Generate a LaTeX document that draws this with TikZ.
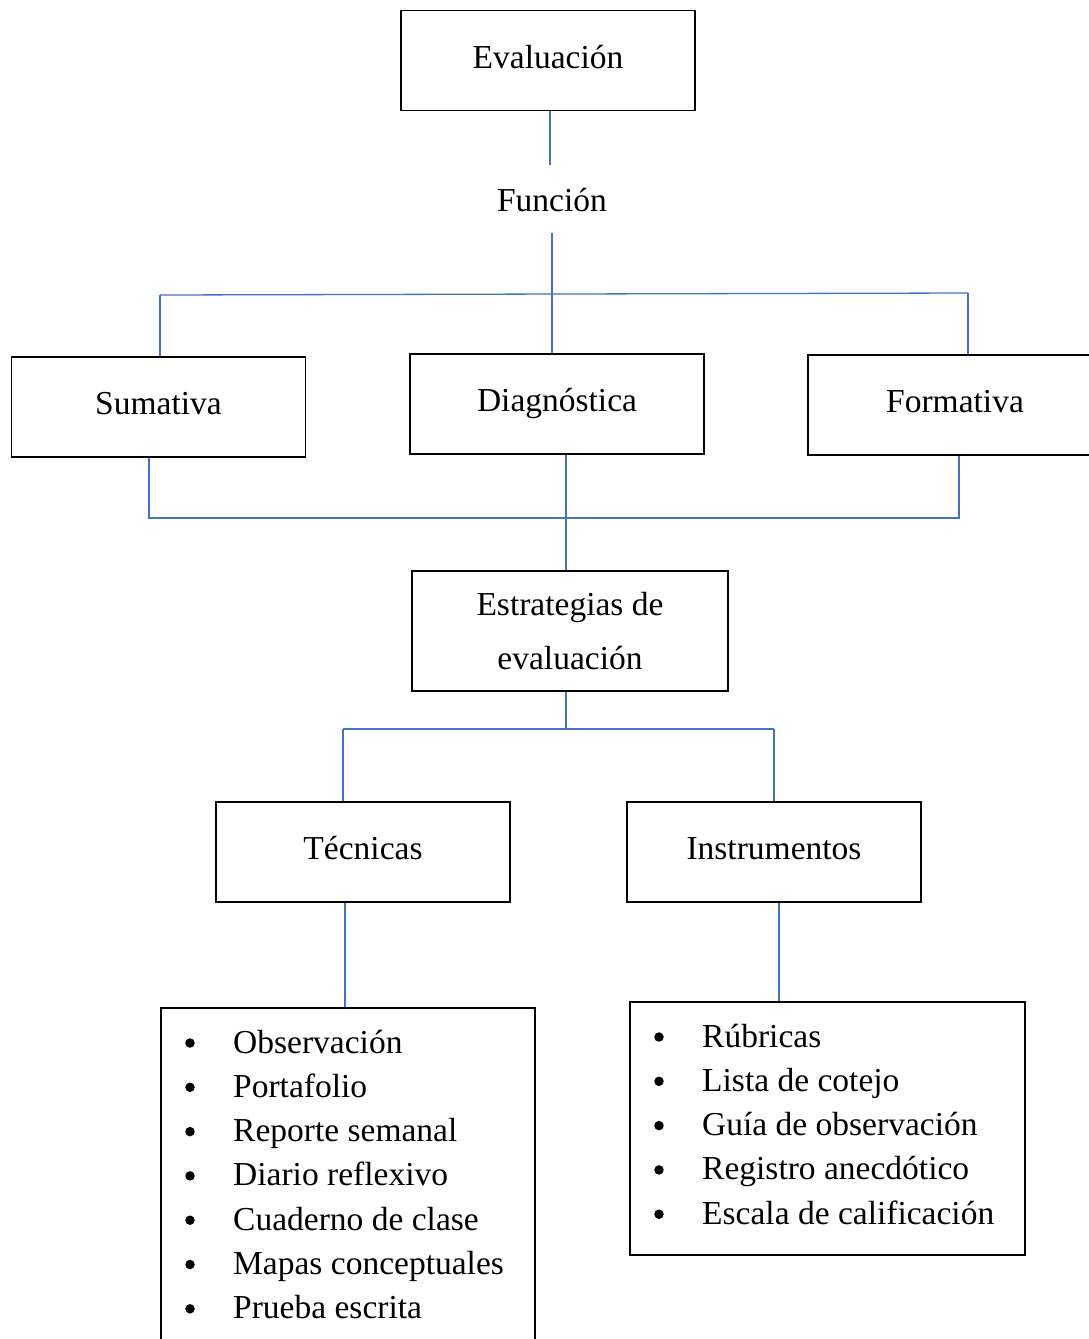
\documentclass[tikz,border=0pt]{standalone}
\usepackage{fontspec}
\setmainfont{Liberation Serif}
\definecolor{linkblue}{RGB}{68,114,196}
\begin{document}
\begin{tikzpicture}[x=1pt,y=-1pt,
  every node/.style={font=\fontsize{33.5}{40}\selectfont, inner sep=0pt, text height=25pt, text depth=10pt},
  box/.style={draw=black, line width=1.6pt, rectangle, minimum width=294pt, minimum height=100pt},
  listbox/.style={draw=black, line width=1.6pt, rectangle},
  link/.style={draw=linkblue, line width=1.3pt},
  item/.style={anchor=base west, text height=, text depth=},
  bul/.style={circle, fill=black, minimum size=9.5pt, text height=, text depth=}]
\useasboundingbox (0,0) rectangle (1089,1339);
\clip (0,0) rectangle (1089,1339);
\fill[white] (0,0) rectangle (1089,1339);

% top
\node[box] (eval) at (548,60.5) {Evaluación};
\node[minimum height=68pt, text height=30pt, text depth=5pt] (func) at (552,199) {Función};

\node[box] (sum) at (158.5,407) {Sumativa};
\node[box] (diag) at (557,404) {Diagnóstica};
\node[box] (form) at (955,405) {Formativa};

\node[listbox, minimum width=316pt, minimum height=120pt, align=center,
      font=\fontsize{33.5}{54}\selectfont, text height=, text depth=] (estr) at (570,631)
      {Estrategias de\\evaluación};

\node[box] (tec) at (363,852) {Técnicas};
\node[box] (inst) at (774,852) {Instrumentos};

\node[listbox, minimum width=374pt, minimum height=345pt] (tlist) at (348,1180.5) {};
\node[listbox, minimum width=395pt, minimum height=253pt] (ilist) at (827.5,1128.5) {};

% coordinates for buses
\coordinate (busL) at (160,295);
\coordinate (busR) at (968,293);
\coordinate (bL) at (149,518);
\coordinate (bR) at (959,518);
\coordinate (bM) at (566,518);
\coordinate (cM) at (566,729);
\coordinate (cL) at (343,729);
\coordinate (cR) at (774,729);
\coordinate (tV) at (345,1000);
\coordinate (iV) at (779,1000);

% connectors
\draw[link] (eval.south -| 550,0) -- (550,0 |- func.north);
\draw[link] (func.south) -- (func.south |- diag.north);
\draw[link] (busL) -- (busR);
\draw[link] (busL) -- (busL |- sum.north);
\draw[link] (busR) -- (busR |- form.north);

\draw[link] (bL |- sum.south) -- (bL) -- (bR) -- (bR |- form.south);
\draw[link] (bM |- diag.south) -- (bM |- estr.north);

\draw[link] (cM |- estr.south) -- (cM);
\draw[link] (cL) -- (cR);
\draw[link] (cL) -- (cL |- tec.north);
\draw[link] (cR) -- (cR |- inst.north);

\draw[link] (tV |- tec.south) -- (tV |- tlist.north);
\draw[link] (iV |- inst.south) -- (iV |- ilist.north);

% technique items
\foreach \t [count=\i] in {Observación,Portafolio,Reporte semanal,Diario reflexivo,Cuaderno de clase,Mapas conceptuales,Prueba escrita} {
  \node[bul] (tb\i) at (190,{1043+44.3*(\i-1)}) {};
  \node[item] (ti\i) at (233,{1053+44.3*(\i-1)}) {\t};
}
% instrument items
\foreach \t [count=\i] in {Rúbricas,Lista de cotejo,Guía de observación,Registro anecdótico,Escala de calificación} {
  \node[bul] (ib\i) at (659,{1037+44.3*(\i-1)}) {};
  \node[item] (ii\i) at (702,{1047+44.3*(\i-1)}) {\t};
}
\end{tikzpicture}
\end{document}
